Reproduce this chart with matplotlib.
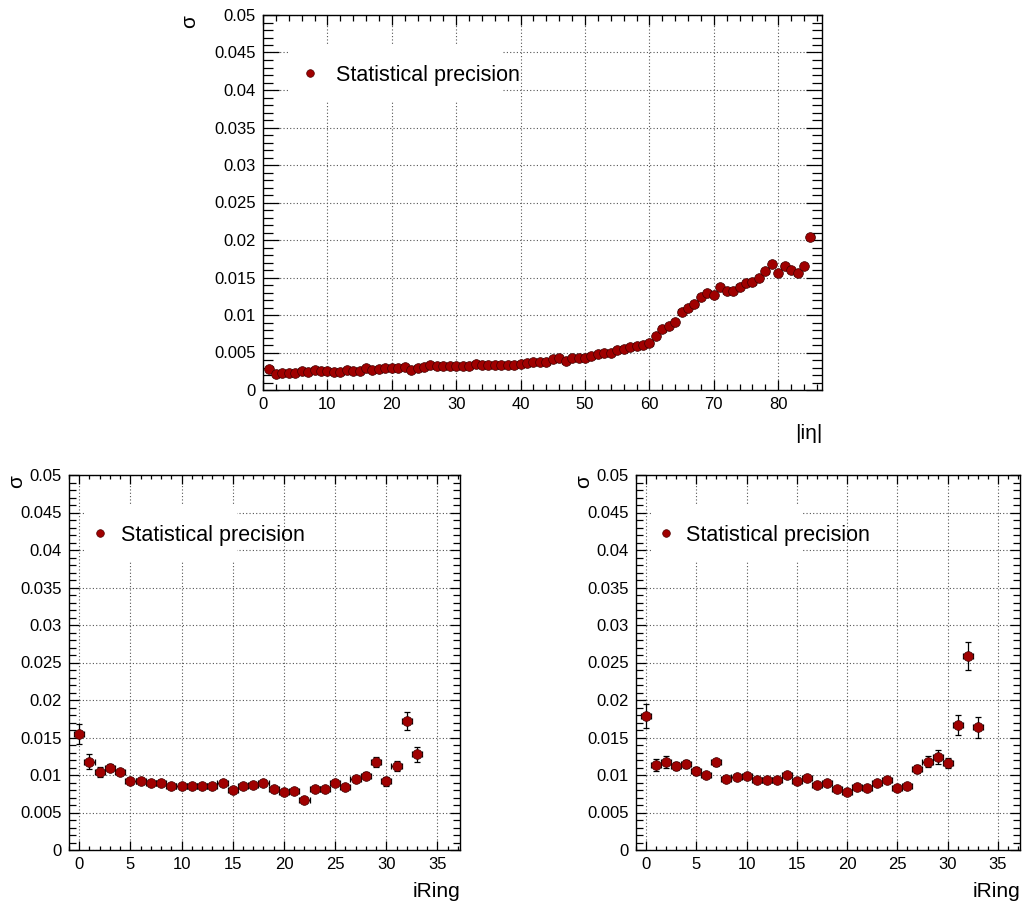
import numpy as np
import matplotlib
matplotlib.use("Agg")
import matplotlib.pyplot as plt
from matplotlib.ticker import MultipleLocator, FuncFormatter
from matplotlib.patches import Rectangle
from matplotlib.lines import Line2D

plt.rcParams["font.family"] = ["Liberation Sans", "DejaVu Sans"]

# |i eta| rings, barrel
ieta = list(range(1, 86))
sigma_ieta = [0.0028, 0.0022, 0.0023, 0.0023, 0.0023, 0.0026, 0.0024, 0.0027, 0.0026, 0.0026,
              0.0024, 0.0024, 0.0027, 0.0026, 0.0026, 0.0029, 0.0027, 0.0028, 0.0029, 0.0030,
              0.0029, 0.0031, 0.0027, 0.0030, 0.0031, 0.0033, 0.0032, 0.0032, 0.0032, 0.0032,
              0.0032, 0.0032, 0.0035, 0.0034, 0.0034, 0.0034, 0.0033, 0.0034, 0.0033, 0.0035,
              0.0036, 0.0038, 0.0038, 0.0037, 0.0042, 0.0043, 0.0039, 0.0043, 0.0043, 0.0043,
              0.0045, 0.0048, 0.0049, 0.0049, 0.0053, 0.0055, 0.0058, 0.0059, 0.0060, 0.0063,
              0.0072, 0.0082, 0.0085, 0.0091, 0.0104, 0.0110, 0.0115, 0.0124, 0.0130, 0.0127,
              0.0137, 0.0132, 0.0132, 0.0138, 0.0143, 0.0144, 0.0150, 0.0159, 0.0168, 0.0156,
              0.0166, 0.0160, 0.0156, 0.0165, 0.0204]

# endcap rings
iring = list(range(0, 34))
sigma_left = [0.0155, 0.0118, 0.0104, 0.0110, 0.0104, 0.0092, 0.0092, 0.0089, 0.0090, 0.0086,
              0.0085, 0.0085, 0.0085, 0.0085, 0.0090, 0.0080, 0.0085, 0.0087, 0.0090, 0.0081,
              0.0078, 0.0079, 0.0067, 0.0082, 0.0081, 0.0090, 0.0084, 0.0095, 0.0099, 0.0117,
              0.0092, 0.0112, 0.0172, 0.0128]
err_left = [0.0013, 0.0010, 0.00066, 0.00053, 0.00044, 0.00035, 0.00035, 0.00035, 0.00035, 0.00035,
            0.00035, 0.00035, 0.00035, 0.00035, 0.00035, 0.00035, 0.00035, 0.00035, 0.00035, 0.00035,
            0.00035, 0.00035, 0.00035, 0.00035, 0.00035, 0.00035, 0.00035, 0.0004, 0.00045, 0.00066,
            0.0006, 0.00066, 0.00124, 0.001]
sigma_right = [0.0179, 0.0114, 0.0118, 0.0112, 0.0115, 0.0105, 0.0100, 0.0117, 0.0095, 0.0097,
               0.0099, 0.0094, 0.0093, 0.0093, 0.0100, 0.0092, 0.0096, 0.0087, 0.0090, 0.0081,
               0.0078, 0.0084, 0.0083, 0.0089, 0.0094, 0.0083, 0.0085, 0.0108, 0.0118, 0.0124,
               0.0116, 0.0167, 0.0259, 0.0164]
err_right = [0.0016, 0.0008, 0.0008, 0.00053, 0.00053, 0.00053, 0.00044, 0.00044, 0.00035, 0.00035,
             0.00035, 0.00035, 0.00035, 0.00035, 0.00035, 0.00035, 0.00035, 0.00035, 0.00035, 0.00035,
             0.00035, 0.00035, 0.00035, 0.00035, 0.00035, 0.00035, 0.00035, 0.00053, 0.00075, 0.0009,
             0.00066, 0.0013, 0.0019, 0.0014]

W, H = 1026, 907
RED = "#a00000"
LEG_FS = 15.5
TICK_FS = 12


def fig_axes(fig, left, right, top, bottom):
    # pixel box -> figure fraction
    return fig.add_axes([left / W, (H - bottom) / H, (right - left) / W, (bottom - top) / H])


def style(ax, xlim, xmajor, xminor, ylen, xlen):
    ax.set_xlim(*xlim)
    ax.set_ylim(0, 0.05)
    ax.xaxis.set_major_locator(MultipleLocator(xmajor))
    ax.xaxis.set_minor_locator(MultipleLocator(xminor))
    ax.yaxis.set_major_locator(MultipleLocator(0.005))
    ax.yaxis.set_minor_locator(MultipleLocator(0.001))
    ax.yaxis.set_major_formatter(FuncFormatter(lambda v, p: "%g" % round(v, 4)))
    ax.tick_params(which="both", direction="in", top=True, right=True,
                   labelsize=TICK_FS, pad=5, color="black", width=0.9)
    ax.tick_params(axis="y", which="major", length=ylen[0])
    ax.tick_params(axis="y", which="minor", length=ylen[1])
    ax.tick_params(axis="x", which="major", length=xlen[0])
    ax.tick_params(axis="x", which="minor", length=xlen[1])
    ax.set_axisbelow(True)
    ax.grid(True, which="major", color="#555555", linestyle=(0, (1, 2)), linewidth=0.8)
    for s in ax.spines.values():
        s.set_linewidth(1.0)


def add_legend(ax, x0, box, handlelength, textpad):
    ax.add_patch(Rectangle((box[0], box[1]), box[2] - box[0], box[3] - box[1],
                           transform=ax.transAxes, facecolor="white", edgecolor="none",
                           zorder=1))
    h = Line2D([], [], linestyle="none", marker="o", markersize=5.5,
               color=RED, markeredgecolor="#500000", markeredgewidth=0.5)
    ax.legend([h], ["Statistical precision"], loc="center left",
              bbox_to_anchor=(x0, 0.84), frameon=False, fontsize=LEG_FS,
              handlelength=handlelength, handletextpad=textpad,
              borderpad=0, borderaxespad=0)


def draw(ax, x, y, yerr):
    ax.errorbar(x, y, xerr=0.5, yerr=yerr, fmt="none", ecolor="black",
                elinewidth=0.9, capsize=2, capthick=0.9, zorder=3)
    ax.plot(x, y, linestyle="none", marker="o", markersize=7, color=RED,
            markeredgecolor="#400000", markeredgewidth=0.5, zorder=4)


fig = plt.figure(figsize=(W / 100, H / 100), dpi=100)

# top: barrel
ax = fig_axes(fig, 263, 822, 15, 390)
style(ax, (0, 86.8), 10, 2, (11.5, 7.2), (7.2, 4.1))
draw(ax, ieta, sigma_ieta, None)
add_legend(ax, 0.0533, (0.045, 0.768, 0.43, 0.92), 1.6, 0.4)
ax.set_ylabel("σ", fontsize=15, loc="top", rotation=90, labelpad=0)
ax.yaxis.set_label_coords(-64 / 559, 1.0)
ax.set_xlabel("|iη|", fontsize=15, loc="right")
ax.xaxis.set_label_coords(1.0, -0.09)

# bottom left / right: endcaps
panels = [((69, 460), sigma_left, err_left, 0.052),
          ((636, 1020), sigma_right, err_right, 0.050)]
for (l, r), sig, err, x0 in panels:
    ax = fig_axes(fig, l, r, 475, 850)
    style(ax, (-1, 37.2), 5, 1, (7.2, 5.0), (6.5, 3.2))
    draw(ax, iring, sig, err)
    add_legend(ax, x0, (0.038, 0.768, 0.43, 0.92), 1.0, 0.45)
    ax.set_ylabel("σ", fontsize=15, loc="top", rotation=90, labelpad=0)
    ax.yaxis.set_label_coords(-43 / (r - l), 1.0)
    ax.set_xlabel("iRing", fontsize=15, loc="right")
    ax.xaxis.set_label_coords(1.0, -0.085)

fig.savefig("out.png", dpi=100)
